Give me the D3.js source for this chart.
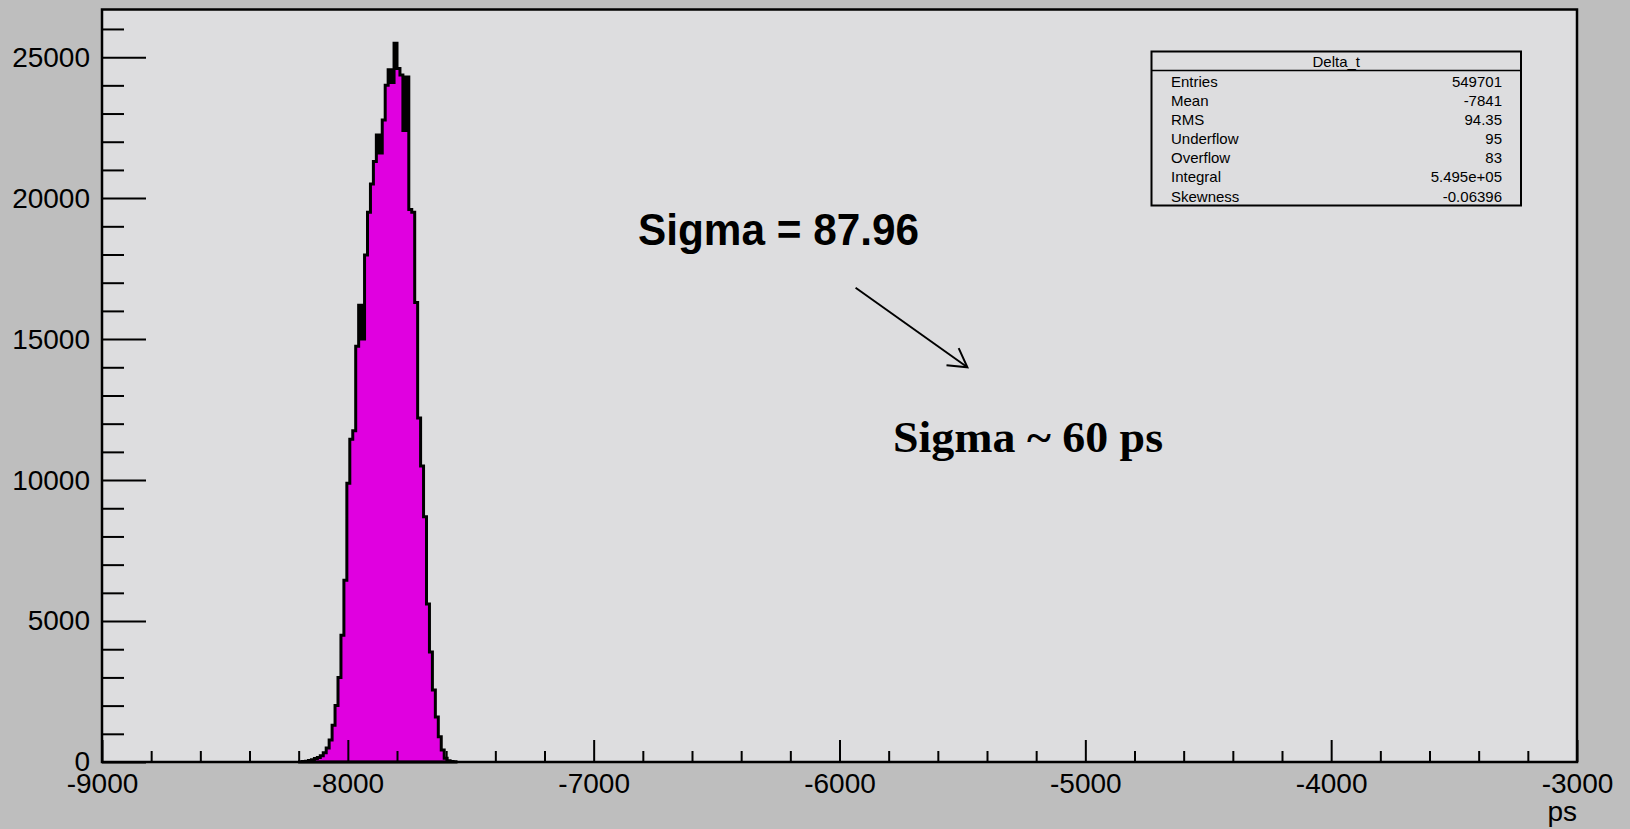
<!DOCTYPE html>
<html>
<head>
<meta charset="utf-8">
<script src="https://d3js.org/d3.v7.min.js"></script>
<style>
  html, body { margin: 0; padding: 0; background: #bebebe; }
  svg { display: block; }
  .tick text { font-family: "Liberation Sans", Arial, Helvetica, sans-serif; }
</style>
</head>
<body>
<div id="chart"></div>
<script>
// Histogram bins (lower edge, ps) and counts
var binLow = [-8196, -8184, -8172, -8160, -8148, -8136, -8124, -8112, -8100, -8088,
  -8076, -8064, -8052, -8040, -8028, -8016, -8004, -7992, -7980, -7968,
  -7956, -7944, -7932, -7920, -7908, -7896, -7884, -7872, -7860, -7848,
  -7836, -7824, -7812, -7800, -7788, -7776, -7764, -7752, -7740, -7728,
  -7716, -7704, -7692, -7680, -7668, -7656, -7644, -7632, -7620, -7608,
  -7596, -7584, -7572];
var binCounts = [8, 15, 30, 50, 80, 120, 160, 220, 330, 500,
  780, 1300, 2000, 3000, 4500, 6450, 9890, 11450, 11750, 14750,
  16200, 15000, 17980, 19500, 20500, 21300, 22240, 21600, 22770, 24000,
  24550, 24100, 25490, 24600, 24370, 22400, 24300, 19600, 19500, 16300,
  12200, 10500, 8700, 5600, 3900, 2550, 1600, 900, 430, 130,
  40, 15, 5];
var binWidth = 12;

// Axis ticks
var xMajorTicks = [-9000, -8000, -7000, -6000, -5000, -4000, -3000];
var xMinorTicks = [-8800, -8600, -8400, -8200, -7800, -7600, -7400, -7200,
  -6800, -6600, -6400, -6200, -5800, -5600, -5400, -5200,
  -4800, -4600, -4400, -4200, -3800, -3600, -3400, -3200];
var yMajorTicks = [0, 5000, 10000, 15000, 20000, 25000];
var yMinorTicks = [1000, 2000, 3000, 4000, 6000, 7000, 8000, 9000, 11000, 12000,
  13000, 14000, 16000, 17000, 18000, 19000, 21000, 22000, 23000, 24000, 26000];

// Stats box
var statNames = ["Entries", "Mean", "RMS", "Underflow", "Overflow", "Integral", "Skewness"];
var statValues = ["549701", "-7841", "94.35", "95", "83", "5.495e+05", "-0.06396"];

var svgWidth = 1630;
var svgHeight = 829;
var frame = { left: 102, right: 1577, top: 9.5, bottom: 762 };

var svg = d3.select("#chart")
  .append("svg")
  .attr("width", svgWidth)
  .attr("height", svgHeight);

svg.append("rect")
  .attr("width", svgWidth)
  .attr("height", svgHeight)
  .attr("fill", "#bebebe");

var x = d3.scaleLinear()
  .domain([-9000, -3000])
  .range([frame.left, frame.right]);

var y = d3.scaleLinear()
  .domain([0, 26690])
  .range([frame.bottom, frame.top]);

// frame background
svg.append("rect")
  .attr("x", frame.left)
  .attr("y", frame.top)
  .attr("width", frame.right - frame.left)
  .attr("height", frame.bottom - frame.top)
  .attr("fill", "#dddddf");

// histogram as a step outline
var pts = [[x(binLow[0]), y(0)]];
binLow.forEach(function (lo, i) {
  pts.push([x(lo), y(binCounts[i])]);
  pts.push([x(lo + binWidth), y(binCounts[i])]);
});
pts.push([x(binLow[binLow.length - 1] + binWidth), y(0)]);

svg.append("path")
  .attr("d", d3.line()(pts) + "Z")
  .attr("fill", "#e000e0")
  .attr("stroke", "#000")
  .attr("stroke-width", 3)
  .attr("stroke-linejoin", "miter");

// x axis: major + minor ticks drawn inward
var xAxisMajor = d3.axisBottom(x)
  .tickValues(xMajorTicks)
  .tickSizeInner(-22)
  .tickSizeOuter(0)
  .tickPadding(11)
  .tickFormat(d3.format("d"));

var xAxisMinor = d3.axisBottom(x)
  .tickValues(xMinorTicks)
  .tickSizeInner(-11)
  .tickSizeOuter(0)
  .tickFormat("");

var gxMinor = svg.append("g")
  .attr("transform", `translate(0, ${frame.bottom})`)
  .call(xAxisMinor);
var gx = svg.append("g")
  .attr("transform", `translate(0, ${frame.bottom})`)
  .call(xAxisMajor);

// y axis
var yAxisMajor = d3.axisLeft(y)
  .tickValues(yMajorTicks)
  .tickSizeInner(-44)
  .tickSizeOuter(0)
  .tickPadding(12)
  .tickFormat(d3.format("d"));

var yAxisMinor = d3.axisLeft(y)
  .tickValues(yMinorTicks)
  .tickSizeInner(-22)
  .tickSizeOuter(0)
  .tickFormat("");

var gyMinor = svg.append("g")
  .attr("transform", `translate(${frame.left}, 0)`)
  .call(yAxisMinor);
var gy = svg.append("g")
  .attr("transform", `translate(${frame.left}, 0)`)
  .call(yAxisMajor);

[gx, gxMinor, gy, gyMinor].forEach(function (g) {
  g.select(".domain").remove();
  g.selectAll(".tick line").attr("stroke", "#000").attr("stroke-width", 2);
  g.selectAll(".tick text")
    .attr("fill", "#000")
    .style("font-size", "28px");
});
// minus sign as plain hyphen, like the original
gx.selectAll(".tick text").text(d => String(d));

// frame border on top of everything in the plot
svg.append("rect")
  .attr("x", frame.left)
  .attr("y", frame.top)
  .attr("width", frame.right - frame.left)
  .attr("height", frame.bottom - frame.top)
  .attr("fill", "none")
  .attr("stroke", "#000")
  .attr("stroke-width", 2.5);

// x axis title
svg.append("text")
  .attr("x", frame.right)
  .attr("y", 821)
  .attr("text-anchor", "end")
  .style("font-family", "'Liberation Sans', Arial, sans-serif")
  .style("font-size", "28px")
  .text("ps");

// stats box
var box = { x: 1151.5, y: 51.5, w: 369.5, h: 154 };
var statsGroup = svg.append("g")
  .style("font-family", "'Liberation Sans', Arial, sans-serif")
  .style("font-size", "15px");

statsGroup.append("rect")
  .attr("x", box.x)
  .attr("y", box.y)
  .attr("width", box.w)
  .attr("height", box.h)
  .attr("fill", "#dddddf")
  .attr("stroke", "#000")
  .attr("stroke-width", 2);

statsGroup.append("line")
  .attr("x1", box.x)
  .attr("x2", box.x + box.w)
  .attr("y1", 70.5)
  .attr("y2", 70.5)
  .attr("stroke", "#000")
  .attr("stroke-width", 1.5);

statsGroup.append("text")
  .attr("x", box.x + box.w / 2)
  .attr("y", 66.5)
  .attr("text-anchor", "middle")
  .text("Delta_t");

statNames.forEach(function (name, i) {
  var rowY = 86.7 + i * 19.15;
  statsGroup.append("text")
    .attr("x", 1171)
    .attr("y", rowY)
    .text(name);
  statsGroup.append("text")
    .attr("x", 1502)
    .attr("y", rowY)
    .attr("text-anchor", "end")
    .text(statValues[i]);
});

// annotations
svg.append("text")
  .attr("x", 638)
  .attr("y", 245)
  .attr("textLength", 281)
  .attr("lengthAdjust", "spacingAndGlyphs")
  .style("font-family", "'Liberation Sans', Arial, sans-serif")
  .style("font-weight", "bold")
  .style("font-size", "44px")
  .text("Sigma = 87.96");

svg.append("text")
  .attr("x", 893)
  .attr("y", 452)
  .attr("textLength", 270)
  .attr("lengthAdjust", "spacingAndGlyphs")
  .style("font-family", "'Liberation Serif', 'Times New Roman', serif")
  .style("font-weight", "bold")
  .style("font-size", "44px")
  .text("Sigma ~ 60 ps");

// arrow with open head
var a0 = [855.6, 287.7], a1 = [967.4, 367.3];
var ang = Math.atan2(a1[1] - a0[1], a1[0] - a0[0]);
var headLen = 21, headAng = Math.PI / 6;
var arrow = svg.append("g")
  .attr("stroke", "#000")
  .attr("stroke-width", 2)
  .attr("fill", "none");
arrow.append("line")
  .attr("x1", a0[0]).attr("y1", a0[1])
  .attr("x2", a1[0]).attr("y2", a1[1]);
arrow.append("path")
  .attr("d", d3.line()([
    [a1[0] - headLen * Math.cos(ang - headAng), a1[1] - headLen * Math.sin(ang - headAng)],
    a1,
    [a1[0] - headLen * Math.cos(ang + headAng), a1[1] - headLen * Math.sin(ang + headAng)]
  ]));
</script>
</body>
</html>
